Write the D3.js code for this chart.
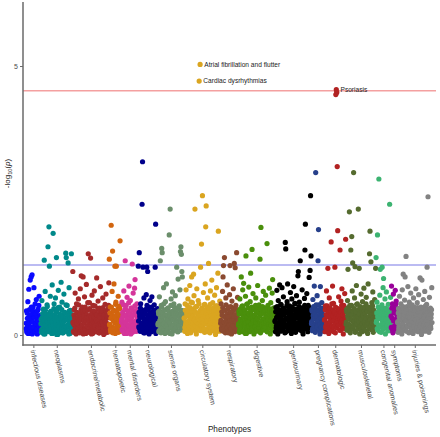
<!DOCTYPE html>
<html><head><meta charset="utf-8">
<script src="https://cdn.jsdelivr.net/npm/d3@7"></script>
<style>
html,body{margin:0;padding:0;background:#fff;}
svg{display:block;font-family:"Liberation Sans",Arial,Helvetica,sans-serif;}
</style></head>
<body><svg id="chart" width="440" height="437"></svg>
<script>
const categories = ["infectious diseases","neoplasms","endocrine/metabolic","hematopoietic","mental disorders","neurological","sense organs","circulatory system","respiratory","digestive","genitourinary","pregnancy complications","dermatologic","musculoskeletal","congenital anomalies","symptoms","injuries & poisonings"];
const colors = ["#0a0aff","#00898a","#a52a2a","#d2650f","#d4359a","#00008b","#6b8e6b","#daa520","#8b4a30","#4a8f0c","#000000","#27408b","#b22222","#556b2f","#3cb371","#990099","#828282"];

// -log10 p values of the phenotypes in each category (two interleaved lists per category, in x order)
const infectious = [0.12,0.45,0.05,0.31,0.62,0.18,0.85,0.22,0.03,1.02,0.38,1.08,0.27,1.12,0.09,0.52,0.15,0.88,0.33,0.06,0.41,0.21,0.66,0.11,0.02,0.29,0.48,0.17,0.72,0.36,0.08,0.24];
const infectiousB = [0.22,0.08,0.41,0.17,0.03,0.33,0.26,0.47,0.1,0.36,0.14,0.52,0.29,0.02,0.24,0.44,0.15,0.34,0.06,0.58,0.19,0.39,0.11,0.28,0.45,0.04,0.25,0.55,0.16,0.35,0.09,0.3];
const neoplasms = [0.21,0.05,0.64,0.33,0.12,0.48,0.02,1.39,0.27,0.81,0.15,0.39,0.07,0.56,0.24,1.64,0.09,2.01,1.28,0.31,0.72,0.18,0.44,0.03,0.93,0.26,1.89,0.11,0.58,0.35,0.06,0.69,0.22,1.44,0.14,0.47,0.01,0.83,0.29,0.17,0.52,0.08,0.37,0.98,0.23,0.61,0.04,0.32,0.19,0.76,0.13,0.42,0.28,1.52,1.44,0.07,0.55,0.34,1.34,0.16,0.88,0.25,0.03,0.46,0.2,1.51,0.38,0.1];
const neoplasmsB = [0.29,0.1,0.22,0.4,0.05,0.16,0.35,0.25,0.02,0.46,0.19,0.32,0.08,0.53,0.26,0.13,0.38,0.06,0.28,0.2,0.44,0.11,0.34,0.23,0.03,0.37,0.17,0.49,0.07,0.3,0.24,0.12,0.42,0.01,0.33,0.18,0.51,0.09,0.27,0.15,0.39,0.05,0.31,0.21,0.47,0.12,0.36,0.04,0.25,0.17,0.41,0.08,0.32,0.56,0.14,0.28,0.06,0.38,0.2,0.02,0.45,0.16,0.31,0.1,0.23,0.36,0.13,0.27];
const endocrine = [1.18,0.22,0.05,0.47,0.31,0.78,0.13,0.02,0.58,0.26,0.41,0.09,0.67,0.19,0.35,0.04,0.86,0.28,1.1,0.15,0.52,0.07,1.08,0.38,0.23,0.71,0.11,0.45,0.03,0.94,0.32,0.17,0.6,1.51,0.25,0.08,0.49,0.14,1.43,0.36,0.02,0.74,0.21,0.55,0.1,0.3,0.82,0.16,0.43,0.06,0.27,1.06,0.37,0.12,0.63,0.2,0.04,0.5,0.33,0.9,0.18,0.07,0.44,0.24,0.69,0.13,0.01,0.39,0.29,0.57,0.09,0.76,0.22,0.34,0.05,0.48,0.15,0.97];
const endocrineB = [0.24,0.07,0.37,0.18,0.5,0.11,0.3,0.04,0.42,0.2,0.33,0.13,0.56,0.26,0.06,0.39,0.16,0.47,0.09,0.31,0.19,0.44,0.02,0.35,0.27,0.12,0.52,0.08,0.28,0.38,0.17,0.46,0.05,0.32,0.23,0.6,0.12,0.36,0.19,0.08,0.41,0.27,0.03,0.45,0.15,0.34,0.22,0.54,0.1,0.3,0.38,0.06,0.25,0.49,0.16,0.35,0.04,0.43,0.21,0.29,0.12,0.4,0.26,0.07,0.51,0.18,0.33,0.03,0.39,0.24,0.45,0.14,0.31,0.09,0.36,0.2,0.55,0.17];
const hematopoietic = [1.41,0.18,0.52,0.06,2.04,0.33,0.81,1.56,0.12,0.44,0.95,0.25,1.28,0.03,0.61,1.28,0.2,0.38,0.09,0.72,0.29,0.14,0.49,1.75,0.07,0.34];
const hematopoieticB = [0.2,0.41,0.1,0.31,0.52,0.15,0.36,0.04,0.26,0.46,0.12,0.34,0.22,0.57,0.07,0.29,0.43,0.17,0.49,0.05,0.38,0.24,0.54,0.13,0.33,0.18];
const mental = [0.24,0.61,0.08,0.35,0.17,0.82,0.03,0.47,1.38,0.21,0.55,0.12,0.7,0.29,0.05,0.42,0.91,0.16,0.33,0.64,0.02,0.26,0.5,1.32,0.11,0.78,0.38,0.19,0.87,1.03,0.07,0.45,0.23,0.58,0.14,0.31];
const mentalB = [0.29,0.11,0.42,0.2,0.56,0.06,0.35,0.25,0.48,0.14,0.37,0.03,0.31,0.45,0.18,0.6,0.09,0.27,0.39,0.13,0.5,0.23,0.33,0.05,0.46,0.19,0.38,0.1,0.54,0.26,0.16,0.43,0.07,0.34,0.47,0.22];
const neurological = [1.28,0.15,1.53,0.36,0.07,0.58,0.22,0.41,2.43,3.22,1.26,0.11,0.69,0.28,0.04,0.47,0.18,0.75,1.26,0.09,1.18,0.33,0.52,0.02,0.25,0.64,0.13,0.39,0.06,0.71,0.2,0.44,0.1,0.3,0.56,0.16,1.26,2.06,0.08,0.37,0.23,0.49];
const neurologicalB = [0.26,0.42,0.12,0.32,0.5,0.07,0.37,0.19,0.45,0.15,0.34,0.04,0.27,0.44,0.21,0.09,0.39,0.3,0.55,0.14,0.24,0.47,0.05,0.35,0.18,0.41,0.11,0.28,0.52,0.22,0.36,0.08,0.32,0.46,0.17,0.27,0.43,0.03,0.31,0.2,0.38,0.1];
const senseOrgans = [0.19,0.43,0.06,0.71,0.27,1.38,0.12,0.55,1.61,1.53,0.34,0.08,0.88,0.21,0.46,0.03,0.62,0.16,0.95,0.29,0.1,0.5,0.37,0.05,1.86,0.24,2.34,0.14,0.67,0.31,0.02,0.8,0.42,0.18,0.58,0.09,0.26,0.73,0.13,0.4,1.26,0.22,0.06,1.04,0.52,0.17,0.35,0.84,1.55,1.64,1.5,1.18,1.08,0.28,0.11,0.45];
const senseOrgansB = [0.22,0.39,0.08,0.45,0.18,0.33,0.04,0.52,0.27,0.13,0.41,0.21,0.58,0.1,0.35,0.25,0.47,0.05,0.37,0.19,0.29,0.5,0.12,0.43,0.23,0.03,0.36,0.55,0.16,0.31,0.44,0.07,0.28,0.4,0.2,0.51,0.11,0.34,0.43,0.15,0.26,0.48,0.06,0.38,0.2,0.54,0.3,0.09,0.42,0.24,0.46,0.13,0.32,0.22,0.4,0.17];
const circulatory = [0.31,0.07,0.58,0.19,0.84,0.12,0.42,0.03,0.67,0.25,0.49,0.15,0.92,0.36,0.05,0.61,1.08,0.22,0.44,0.1,1.13,0.73,0.28,2.34,0.17,0.53,0.02,0.86,0.33,0.14,0.64,0.4,4.72,0.21,5.03,1.26,0.08,1.69,0.47,2.59,0.18,0.79,0.3,0.11,0.57,0.95,2.01,2.4,0.26,0.06,0.69,0.38,1.33,0.16,0.5,0.04,0.82,0.23,0.35,1.02,0.13,0.6,0.27,0.09,0.45,0.74,0.2,0.01,0.54,0.88,0.32,0.14,1.15,1.93,0.41,0.07,0.63,0.24];
const circulatoryB = [0.32,0.14,0.46,0.24,0.06,0.39,0.55,0.19,0.35,0.1,0.44,0.27,0.51,0.04,0.31,0.17,0.41,0.6,0.22,0.36,0.12,0.49,0.29,0.43,0.07,0.25,0.53,0.16,0.4,0.33,0.21,0.58,0.09,0.45,0.28,0.37,0.18,0.5,0.3,0.13,0.42,0.23,0.56,0.05,0.35,0.47,0.2,0.4,0.28,0.52,0.11,0.34,0.45,0.19,0.26,0.57,0.14,0.38,0.48,0.08,0.31,0.43,0.21,0.51,0.15,0.37,0.27,0.46,0.06,0.34,0.54,0.17,0.41,0.25,0.49,0.12,0.33,0.39];
const respiratory = [0.22,0.58,0.09,0.37,0.81,1.08,1.29,0.15,1.44,0.46,0.04,0.69,0.27,0.13,0.93,0.33,0.07,0.52,0.2,0.75,1.29,0.11,0.41,0.02,0.63,0.29,0.17,0.86,0.35,1.33,0.06,1.25,0.48,0.24,1.53,0.12,0.7,0.31];
const respiratoryB = [0.27,0.13,0.43,0.2,0.51,0.07,0.35,0.24,0.46,0.16,0.32,0.56,0.1,0.39,0.22,0.48,0.04,0.34,0.18,0.42,0.26,0.53,0.12,0.37,0.2,0.45,0.08,0.3,0.5,0.15,0.38,0.23,0.55,0.11,0.33,0.19,0.44,0.28];
const digestive = [0.18,0.44,0.05,0.67,0.29,0.12,1.08,0.53,0.21,0.84,0.36,0.96,0.08,0.47,0.16,0.72,1.47,0.03,0.31,0.58,0.14,0.41,0.89,0.25,0.06,0.62,1.15,0.19,0.38,1.59,0.1,0.77,0.27,0.02,0.5,0.34,0.15,0.69,0.23,0.45,0.07,0.92,0.32,0.13,0.56,0.2,1.41,0.04,2.0,0.39,0.26,0.64,0.11,0.81,0.3,0.17,0.48,0.09,0.74,0.22,0.35,1.7,0.06,0.55,0.28,0.14,0.87,0.43,0.02,0.6,0.19,0.33,0.78,1.03,0.12,0.5,0.24,0.4];
const digestiveB = [0.21,0.39,0.09,0.48,0.28,0.15,0.43,0.24,0.54,0.06,0.34,0.18,0.46,0.26,0.03,0.4,0.22,0.57,0.12,0.35,0.25,0.5,0.16,0.38,0.08,0.31,0.44,0.2,0.52,0.13,0.33,0.24,0.47,0.05,0.37,0.17,0.55,0.27,0.41,0.1,0.3,0.49,0.21,0.43,0.14,0.35,0.23,0.47,0.07,0.4,0.19,0.53,0.29,0.11,0.42,0.22,0.46,0.16,0.36,0.25,0.51,0.06,0.32,0.44,0.2,0.39,0.13,0.48,0.27,0.35,0.18,0.45,0.09,0.37,0.24,0.5,0.15,0.31];
const genitourinary = [0.25,0.06,0.51,0.17,0.83,0.33,0.02,0.64,0.41,0.12,0.93,0.28,0.07,0.56,0.19,0.88,0.37,0.1,0.71,0.23,0.47,0.04,1.72,1.6,0.3,0.15,0.62,0.95,0.08,0.42,0.2,0.54,0.13,0.79,0.35,0.03,0.67,0.26,0.49,0.11,0.9,0.32,0.18,0.58,0.05,0.44,0.73,0.21,0.38,1.1,1.18,0.14,0.61,0.27,1.38,0.09,0.5,0.34,0.84,0.16,0.02,0.45,0.24,0.68,1.58,2.06,0.12,0.4,0.77,0.29,0.06,0.55,0.19,1.07,0.36,1.2,2.59,1.47];
const genitourinaryB = [0.27,0.43,0.13,0.33,0.53,0.2,0.39,0.08,0.47,0.24,0.36,0.17,0.57,0.3,0.1,0.45,0.22,0.5,0.15,0.37,0.28,0.46,0.05,0.41,0.19,0.55,0.31,0.12,0.4,0.25,0.49,0.18,0.34,0.44,0.09,0.3,0.52,0.21,0.38,0.14,0.46,0.26,0.59,0.16,0.36,0.2,0.48,0.1,0.32,0.42,0.23,0.53,0.15,0.35,0.45,0.18,0.4,0.28,0.07,0.5,0.25,0.37,0.17,0.55,0.3,0.12,0.43,0.22,0.47,0.33,0.2,0.39,0.13,0.51,0.27,0.36,0.18,0.44];
const pregnancy = [0.21,0.47,0.08,0.66,0.3,0.14,0.91,0.39,0.05,3.02,0.56,0.18,0.73,0.26,1.38,1.96,0.11,0.43,0.02,0.9,0.33,0.15,0.6,0.24,0.07,0.5,0.35,0.12];
const pregnancyB = [0.25,0.44,0.12,0.36,0.53,0.19,0.3,0.41,0.08,0.48,0.22,0.35,0.15,0.46,0.27,0.56,0.1,0.39,0.2,0.5,0.32,0.13,0.43,0.26,0.49,0.17,0.37,0.28];
const dermatologic = [0.28,0.06,0.54,0.17,0.82,0.35,0.11,1.24,0.44,0.03,0.69,0.22,0.5,0.13,1.73,0.38,0.08,0.91,0.26,0.59,0.15,0.41,1.26,0.04,4.47,4.56,4.51,3.13,1.94,0.32,0.71,0.19,0.47,1.58,0.09,0.63,0.24,0.86,0.12,0.37,0.02,0.55,0.2,0.77,0.3,1.78];
const dermatologicB = [0.29,0.47,0.14,0.38,0.22,0.54,0.08,0.34,0.44,0.19,0.5,0.26,0.11,0.41,0.31,0.58,0.17,0.36,0.46,0.06,0.27,0.43,0.2,0.52,0.33,0.13,0.39,0.24,0.49,0.18,0.35,0.45,0.09,0.3,0.42,0.2,0.55,0.28,0.37,0.15,0.48,0.23,0.34,0.44,0.12,0.3];
const musculoskeletal = [0.2,0.47,0.09,0.64,1.22,0.31,0.13,2.29,0.55,0.04,1.58,0.38,1.83,0.82,1.34,0.17,3.02,0.26,0.69,1.27,0.07,0.43,0.92,0.21,0.58,0.11,2.34,0.35,1.24,0.02,0.5,0.16,0.76,0.29,0.06,0.62,0.4,0.14,0.87,0.24,0.52,0.08,0.33,0.7,0.18,0.45,0.03,0.95,0.27,0.12,1.51,1.93,0.37,1.36,0.1,0.6,0.22,0.8,0.05,0.41,0.19,0.66,0.3,1.24];
const musculoskeletalB = [0.24,0.43,0.13,0.35,0.51,0.2,0.39,0.07,0.46,0.29,0.17,0.55,0.27,0.37,0.11,0.45,0.22,0.49,0.33,0.05,0.41,0.18,0.57,0.28,0.34,0.12,0.47,0.25,0.39,0.16,0.53,0.31,0.09,0.43,0.21,0.5,0.36,0.14,0.45,0.26,0.4,0.19,0.58,0.3,0.06,0.44,0.23,0.52,0.34,0.13,0.42,0.28,0.48,0.18,0.38,0.22,0.54,0.1,0.32,0.46,0.25,0.4,0.15,0.35];
const congenital = [1.44,0.26,0.61,1.86,0.09,0.43,2.9,0.18,0.74,1.22,0.34,0.05,0.52,1.26,0.21,0.88,1.05,0.13,0.39,0.67,0.02,0.29,0.8,0.15,0.47,0.08,0.57,0.24,0.36,2.43,0.11,0.7];
const congenitalB = [0.23,0.41,0.12,0.34,0.52,0.19,0.45,0.06,0.3,0.44,0.16,0.38,0.56,0.26,0.1,0.49,0.33,0.21,0.43,0.14,0.5,0.28,0.39,0.18,0.47,0.24,0.36,0.08,0.44,0.31,0.2,0.4];
const symptoms = [0.35,0.91,0.12,0.58,0.04,0.76,0.27,0.45,0.08,0.83,0.19,0.63,0.3,0.5];
const symptomsB = [0.14,0.5,0.31,0.08,0.54,0.26,0.41,0.17,0.46,0.28,0.58,0.22,0.36,0.12];
const injuries = [0.23,0.05,0.49,0.16,0.72,0.31,0.09,0.58,0.37,0.02,0.84,0.2,1.13,0.44,0.12,0.65,1.08,0.28,1.46,0.07,0.53,0.18,0.9,0.34,0.04,0.61,0.25,0.14,0.78,0.4,0.1,0.56,0.22,0.03,0.69,0.32,0.17,0.47,0.08,0.86,0.27,0.13,0.6,0.38,0.06,0.75,0.21,0.42,1.06,0.15,0.52,0.01,1.02,0.29,0.11,0.66,0.35,0.19,0.81,0.07,0.46,0.24,0.57,1.26,0.14,2.57,0.33,0.05,0.7,0.2,0.5,0.12,0.39,0.88];
const injuriesB = [0.25,0.41,0.11,0.34,0.49,0.18,0.38,0.07,0.45,0.28,0.21,0.53,0.14,0.37,0.3,0.44,0.09,0.5,0.26,0.35,0.16,0.47,0.23,0.4,0.05,0.32,0.55,0.2,0.43,0.27,0.12,0.48,0.33,0.19,0.39,0.52,0.24,0.08,0.45,0.29,0.37,0.15,0.51,0.22,0.42,0.11,0.31,0.46,0.19,0.36,0.26,0.5,0.07,0.41,0.28,0.17,0.45,0.33,0.21,0.54,0.13,0.38,0.27,0.48,0.2,0.43,0.1,0.35,0.24,0.44,0.16,0.32,0.47,0.23];

const yTicks = [0, 5];
const bonferroniLine = 4.54;
const nominalLine = 1.301;
const annotLabels = ["Atrial fibrillation and flutter","Cardiac dysrhythmias","Psoriasis"];
const annotGroups = [7, 7, 12];
const annotValues = [5.03, 4.72, 4.56];

const groupsA = [infectious,neoplasms,endocrine,hematopoietic,mental,neurological,senseOrgans,circulatory,respiratory,digestive,genitourinary,pregnancy,dermatologic,musculoskeletal,congenital,symptoms,injuries];
const groupsB = [infectiousB,neoplasmsB,endocrineB,hematopoieticB,mentalB,neurologicalB,senseOrgansB,circulatoryB,respiratoryB,digestiveB,genitourinaryB,pregnancyB,dermatologicB,musculoskeletalB,congenitalB,symptomsB,injuriesB];

const points = [];
const centers = [];
groupsA.forEach((valsA, g) => {
  const start = points.length;
  const valsB = groupsB[g];
  valsA.forEach((v, k) => {
    points.push({idx: points.length, g, v});
    if (k < valsB.length) points.push({idx: points.length, g, v: valsB[k]});
  });
  centers.push(start + (points.length - 1 - start) / 2);
});
const N = points.length;

const svg = d3.select("#chart");
const panelL = 23, panelR = 436, panelT = 2, panelB = 345;
const x = d3.scaleLinear().domain([0, N - 1]).range([26, 432]);
const y = d3.scaleLinear().domain([-0.186, 6.19]).range([panelB, panelT]);

// threshold lines
svg.append("line").attr("x1", panelL).attr("x2", panelR)
  .attr("y1", y(bonferroniLine)).attr("y2", y(bonferroniLine))
  .attr("stroke", "#f4a0a0").attr("stroke-width", 1.4);
svg.append("line").attr("x1", panelL).attr("x2", panelR)
  .attr("y1", y(nominalLine)).attr("y2", y(nominalLine))
  .attr("stroke", "#a4a4ee").attr("stroke-width", 1.3);

// points
svg.append("g").selectAll("circle").data(points).join("circle")
  .attr("cx", d => x(d.idx)).attr("cy", d => y(d.v)).attr("r", 2.6)
  .attr("fill", d => colors[d.g]);

// annotations
annotLabels.forEach((lab, i) => {
  const p = points.find(d => d.g === annotGroups[i] && d.v === annotValues[i]);
  svg.append("text").attr("x", x(p.idx) + 4.2).attr("y", y(p.v)).attr("dy", "0.35em")
    .attr("font-size", 6.6).attr("fill", "#222").text(lab);
});

// axes
const axisCol = "#6a6a6a";
const yAxis = svg.append("g").attr("transform", `translate(${panelL},0)`)
  .call(d3.axisLeft(y).tickValues(yTicks).tickSize(3).tickPadding(2).tickFormat(d3.format("d")));
yAxis.select(".domain").remove();
yAxis.selectAll(".tick line").attr("stroke", axisCol);
yAxis.selectAll(".tick text").attr("font-size", 7).attr("fill", "#4d4d4d").attr("font-family", null);

const xAxis = svg.append("g").attr("transform", `translate(0,${panelB})`)
  .call(d3.axisBottom(x).tickValues(centers).tickSize(3).tickFormat((d, i) => categories[i]));
xAxis.select(".domain").remove();
xAxis.selectAll(".tick line").attr("stroke", axisCol);
xAxis.selectAll(".tick text")
  .attr("font-size", 7).attr("fill", "#444").attr("font-family", null)
  .attr("text-anchor", "start")
  .attr("transform", "translate(-1,5) rotate(78)")
  .attr("x", 0).attr("y", 0).attr("dy", "0.35em");

svg.append("line").attr("x1", panelL).attr("x2", panelL).attr("y1", panelT).attr("y2", panelB + 0.7)
  .attr("stroke", axisCol).attr("stroke-width", 1.5);
svg.append("line").attr("x1", panelL - 0.7).attr("x2", panelR).attr("y1", panelB).attr("y2", panelB)
  .attr("stroke", axisCol).attr("stroke-width", 1.5);

// axis titles
svg.append("text").attr("x", (panelL + panelR) / 2).attr("y", 432)
  .attr("text-anchor", "middle").attr("font-size", 8.2).attr("fill", "#222").text("Phenotypes");
const yl = svg.append("text").attr("transform", `translate(10,${(panelT + panelB) / 2}) rotate(-90)`)
  .attr("text-anchor", "middle").attr("font-size", 8).attr("fill", "#222");
yl.append("tspan").text("-log");
yl.append("tspan").attr("font-size", 5.6).attr("dy", 1.8).text("10");
yl.append("tspan").attr("dy", -1.8).text("(");
yl.append("tspan").attr("font-style", "italic").text("p");
yl.append("tspan").text(")");
</script>
</body></html>
